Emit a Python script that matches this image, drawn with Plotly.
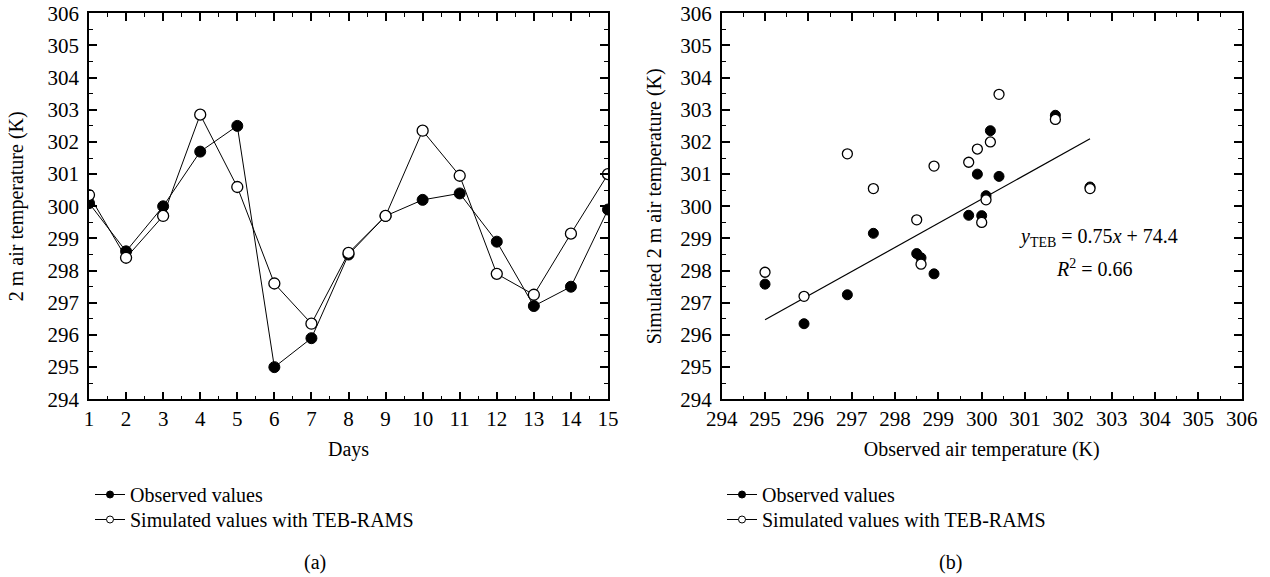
import plotly.graph_objects as go

# panel (a): daily series
days = list(range(1, 16))
obs_days = [300.1, 298.6, 300.0, 301.7, 302.5, 295.0, 295.9, 298.5, 299.7, 300.2, 300.4, 298.9, 296.9, 297.5, 299.9]
sim_days = [300.35, 298.4, 299.7, 302.85, 300.6, 297.6, 296.35, 298.55, 299.7, 302.35, 300.95, 297.9, 297.25, 299.15, 301.0]

# panel (b): scatter of simulated vs observed
filled_x = [302.5, 295.0, 295.9, 296.9, 297.5, 298.5, 298.6, 298.9, 301.7, 300.2, 299.9, 300.4, 300.1, 299.7, 300.0]
filled_y = [300.6, 297.58, 296.35, 297.25, 299.16, 298.53, 298.4, 297.9, 302.83, 302.35, 301.0, 300.93, 300.33, 299.72, 299.71]
open_x = [295.0, 295.9, 296.9, 297.5, 298.5, 298.6, 298.9, 300.4, 301.7, 300.2, 299.9, 299.7, 302.5, 300.1, 300.0]
open_y = [297.95, 297.2, 301.63, 300.55, 299.58, 298.2, 301.25, 303.48, 302.7, 302.0, 301.78, 301.37, 300.55, 300.2, 299.5]
reg_x = [295.0, 302.5]
reg_y = [296.47, 302.1]

names = ['Observed values', 'Simulated values with TEB-RAMS']

FONT = 'Liberation Serif'
W, H = 1270, 577

fig = go.Figure()

filled = dict(symbol='circle', size=11, color='black', line=dict(color='black', width=1))
hollow = dict(symbol='circle', size=11, color='white', line=dict(color='black', width=1.3))

fig.add_trace(go.Scatter(x=days, y=obs_days, mode='lines+markers', showlegend=False,
                         line=dict(color='black', width=1), marker=filled, xaxis='x', yaxis='y'))
fig.add_trace(go.Scatter(x=days, y=sim_days, mode='lines+markers', showlegend=False,
                         line=dict(color='black', width=1), marker=hollow, xaxis='x', yaxis='y'))

fig.add_trace(go.Scatter(x=reg_x, y=reg_y, mode='lines', line=dict(color='black', width=1.2),
                         showlegend=False, xaxis='x2', yaxis='y2'))
fig.add_trace(go.Scatter(x=filled_x, y=filled_y, mode='markers', marker=dict(filled, size=10),
                         showlegend=False, xaxis='x2', yaxis='y2'))
fig.add_trace(go.Scatter(x=open_x, y=open_y, mode='markers', marker=dict(hollow, size=10),
                         showlegend=False, xaxis='x2', yaxis='y2'))

# legend entries, one small legend per row so the rows sit where the reference has them
leg_filled = dict(symbol='circle', size=7, color='black', line=dict(color='black', width=1))
leg_hollow = dict(symbol='circle', size=7, color='white', line=dict(color='black', width=1))
legend_ids = [['legend', 'legend2'], ['legend3', 'legend4']]
for p, (xa, ya) in enumerate([('x', 'y'), ('x2', 'y2')]):
    for k, mk in enumerate([leg_filled, leg_hollow]):
        fig.add_trace(go.Scatter(x=[None], y=[None], mode='lines+markers', name=names[k],
                                 line=dict(color='black', width=1), marker=mk,
                                 xaxis=xa, yaxis=ya, legend=legend_ids[p][k]))

ax = dict(showgrid=False, zeroline=False, showline=True, linecolor='black', linewidth=1.6,
          mirror='ticks', ticks='inside', ticklen=8, tickwidth=1.6, tickcolor='black',
          tickmode='linear', tick0=0, dtick=1, automargin=False, layer='above traces',
          minor=dict(ticks='inside', ticklen=4, tickwidth=1.4, tickcolor='black', dtick=0.5, tick0=0,
                     showgrid=False),
          tickfont=dict(family=FONT, size=21, color='black'))
xax = dict(ax, ticklabelstandoff=0)
yax = dict(ax, ticklabelstandoff=4)

ytop, ybot = 13.3, 399.3
leg = dict(xanchor='left', yanchor='top', bgcolor='rgba(0,0,0,0)',
           font=dict(family=FONT, size=20), itemsizing='trace', tracegroupgap=0)
fig.update_layout(
    width=W, height=H, margin=dict(l=0, r=0, t=0, b=0, autoexpand=False),
    paper_bgcolor='white', plot_bgcolor='white',
    font=dict(family=FONT, size=20, color='black'),
    xaxis=dict(xax, domain=[89/W, 608/W], range=[1, 15], anchor='y',
               title=dict(text='Days', standoff=12, font=dict(family=FONT, size=20))),
    yaxis=dict(yax, domain=[1-ybot/H, 1-ytop/H], range=[294, 306], anchor='x',
               title=dict(text='2 m air temperature (K)', standoff=18, font=dict(family=FONT, size=20))),
    xaxis2=dict(xax, domain=[721.7/W, 1241.7/W], range=[294, 306], anchor='y2',
                title=dict(text='Observed air temperature (K)', standoff=12, font=dict(family=FONT, size=20))),
    yaxis2=dict(yax, domain=[1-ybot/H, 1-ytop/H], range=[294, 306], anchor='x2',
                title=dict(text='Simulated 2 m air temperature (K)', standoff=13, font=dict(family=FONT, size=20))),
    legend=dict(leg, x=90/W, y=1-475/H),
    legend2=dict(leg, x=90/W, y=1-500/H),
    legend3=dict(leg, x=722/W, y=1-475/H),
    legend4=dict(leg, x=722/W, y=1-500/H),
    showlegend=True,
)

ann = dict(xref='paper', yref='paper', showarrow=False, xanchor='center', yanchor='middle',
           font=dict(family=FONT, size=20))
fig.add_annotation(ann, text='<i>y</i><sub>TEB</sub> = 0.75<i>x</i> + 74.4', x=1098/W, y=1-237/H)
fig.add_annotation(ann, text='<i>R</i><sup>2</sup> = 0.66', x=1094/W, y=1-268/H)
fig.add_annotation(ann, text='(a)', x=315/W, y=1-562/H)
fig.add_annotation(ann, text='(b)', x=950/W, y=1-562/H)

# the page body has a default 8px margin; drop it so the figure fills the window
fig.write_html('out.html', config={'displayModeBar': False},
               post_script="document.body.style.margin='0px';")
